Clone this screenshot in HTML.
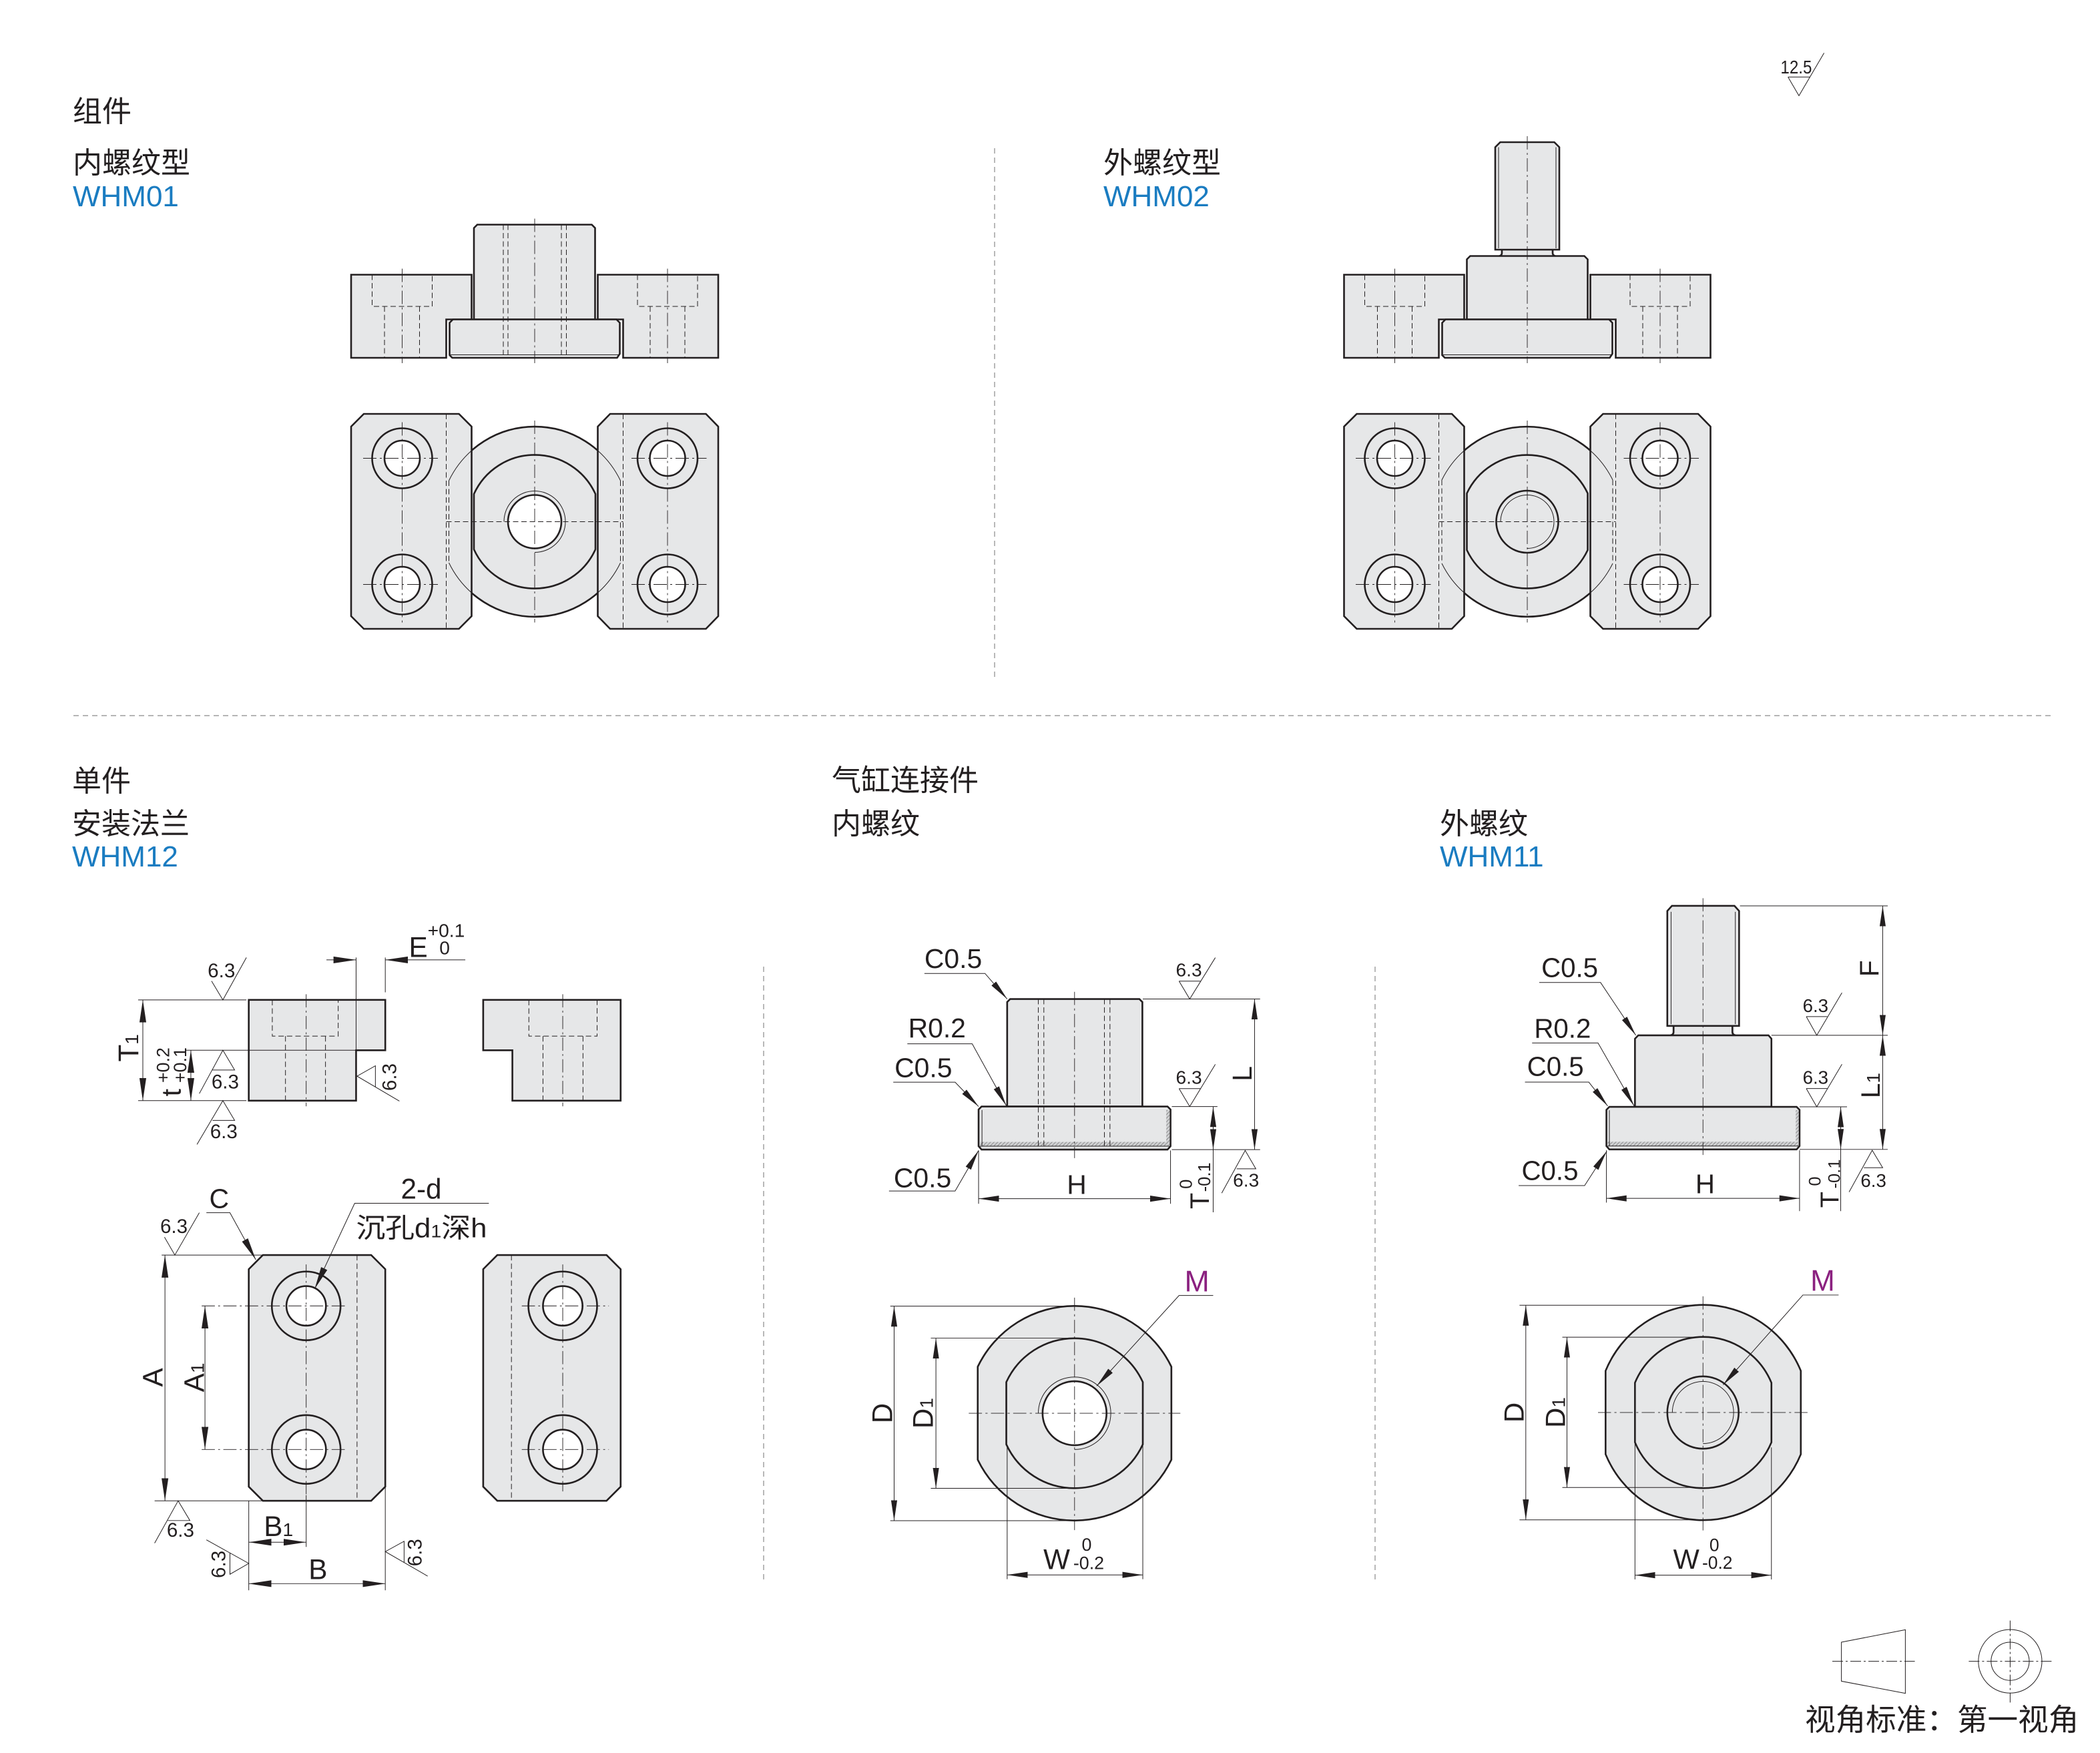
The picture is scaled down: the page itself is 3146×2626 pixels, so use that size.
<!DOCTYPE html>
<html><head><meta charset="utf-8">
<style>
html,body{margin:0;padding:0;background:#fff}
svg{display:block}
.p{fill:#e6e7e8;stroke:#231f20;stroke-linejoin:miter}
.w{fill:#fff;stroke:#231f20}
.n{fill:none;stroke:#231f20}
.kA{stroke-width:5.2}.tA{fill:none;stroke:#231f20;stroke-width:2}.hA{fill:none;stroke:#231f20;stroke-width:2;stroke-dasharray:16 9}.cA{fill:none;stroke:#231f20;stroke-width:1.8;stroke-dasharray:40 10 6 10}
.kB{stroke-width:3.7}.tB{fill:none;stroke:#231f20;stroke-width:1.4}.hB{fill:none;stroke:#231f20;stroke-width:1.4;stroke-dasharray:11.5 6.5}.cB{fill:none;stroke:#231f20;stroke-width:1.3;stroke-dasharray:28 7 4 7}
.kC{stroke-width:4.1}.tC{fill:none;stroke:#231f20;stroke-width:1.55}.hC{fill:none;stroke:#231f20;stroke-width:1.55;stroke-dasharray:12.5 7}.cC{fill:none;stroke:#231f20;stroke-width:1.4;stroke-dasharray:31 8 5 8}
.sep{fill:none;stroke:#8a8a8a;stroke-width:0.6;stroke-dasharray:4 3}
text{font-family:"Liberation Sans","Noto Sans CJK SC",sans-serif;fill:#231f20}
.bl{fill:#1a7cc1}
.mg{fill:#8b2180}
</style></head><body>
<svg xmlns="http://www.w3.org/2000/svg" width="3146" height="2626" viewBox="0 0 1573 1313">
<defs>
<marker id="ae" viewBox="0 0 48 16" refX="48" refY="8" markerWidth="48" markerHeight="16" orient="auto" markerUnits="userSpaceOnUse"><path d="M0,0.8 L48,8 L0,15.2 Z" fill="#231f20"/></marker>
<marker id="as" viewBox="0 0 48 16" refX="0" refY="8" markerWidth="48" markerHeight="16" orient="auto" markerUnits="userSpaceOnUse"><path d="M48,0.8 L0,8 L48,15.2 Z" fill="#231f20"/></marker>
<pattern id="hat" patternUnits="userSpaceOnUse" width="6" height="6" patternTransform="rotate(45)"><rect width="6" height="6" fill="#cfd0d2"/><line x1="0" y1="0" x2="0" y2="6" stroke="#555" stroke-width="1.6"/></pattern>
</defs>

<!-- headers -->
<text x="54.5" y="91" font-size="22">组件</text>
<text x="54.5" y="129.5" font-size="22">内螺纹型</text>
<text x="54.5" y="154.5" font-size="22" class="bl">WHM01</text>
<text x="826.5" y="129.5" font-size="22">外螺纹型</text>
<text x="826.5" y="154.5" font-size="22" class="bl">WHM02</text>
<text x="54" y="592.5" font-size="22">单件</text>
<text x="54" y="624.5" font-size="22">安装法兰</text>
<text x="54" y="649" font-size="22" class="bl">WHM12</text>
<text x="623" y="592" font-size="22">气缸连接件</text>
<text x="623" y="624.5" font-size="22">内螺纹</text>
<text x="1078.5" y="624.5" font-size="22">外螺纹</text>
<text x="1078.5" y="649" font-size="22" class="bl">WHM11</text>

<!-- separators -->
<path class="sep" d="M745,111V507"/>
<path class="sep" d="M55,536H1538"/>
<path class="sep" d="M572,724V1184"/>
<path class="sep" d="M1030,724V1186"/>

<!-- 12.5 roughness -->
<text x="1333.7" y="55" font-size="14" textLength="23.5" lengthAdjust="spacingAndGlyphs">12.5</text>
<path fill="none" stroke="#231f20" stroke-width="0.5" d="M1339.3,57.7H1355.8M1339.3,57.7L1347.5,71.7L1366.3,39.7"/>

<!-- ============ TOP LEFT ASSEMBLY ============ -->
<g transform="translate(240,90) scale(0.25)">
<path class="p kA" d="M92,463H453V597H377V712H92Z"/>
<path class="p kA" d="M831,463H1192V712H907V597H831Z"/>
<path class="p kA" d="M460,597V323L470,313H813L823,323V597Z"/>
<path class="p kA" d="M397,597H887L897,607V700L889,712H395L387,704V607Z"/>
<path class="tA" d="M390,703H894"/>
<path class="hA" d="M548,313V712M562,313V712M722,313V712M737,313V712"/>
<path class="hA" d="M155,463V558H335V463M192,558V712M297,558V712M950,463V558H1130V463M988,558V712M1092,558V712"/>
<path class="cA" d="M642,295V728M245,445V728M1040,445V728"/>
<path class="p kA" d="M385,1080A285,285 0 0 1 899,1080V1326A285,285 0 0 1 385,1326Z"/>
<path class="p kA" d="M460,1120A200,200 0 0 1 824,1120V1286A200,200 0 0 1 460,1286Z"/>
<circle class="w kA" cx="642" cy="1203" r="80"/>
<path class="tA" d="M642,1295A92,92 0 1 0 550,1203"/>
<path class="p kA" d="M130,880H415L453,918V1486L415,1524H130L92,1486V918Z"/>
<path class="p kA" d="M868,880H1155L1192,918V1486L1155,1524H868L831,1486V918Z"/>
<circle class="p kA" cx="245" cy="1013" r="90"/><circle class="w kA" cx="245" cy="1013" r="53"/>
<circle class="p kA" cx="245" cy="1391" r="90"/><circle class="w kA" cx="245" cy="1391" r="53"/>
<circle class="p kA" cx="1040" cy="1013" r="90"/><circle class="w kA" cx="1040" cy="1013" r="53"/>
<circle class="p kA" cx="1040" cy="1391" r="90"/><circle class="w kA" cx="1040" cy="1391" r="53"/>
<path class="hA" d="M377,880V1524M907,880V1524M385,1080V1326M899,1080V1326M377,1203H907"/>
<path class="tA" d="M385,1080A285,285 0 0 1 453,990M899,1080A285,285 0 0 0 831,990M385,1326A285,285 0 0 0 453,1416M899,1326A285,285 0 0 1 831,1416"/>
<path class="cA" d="M128,1013H352M128,1391H352M245,905V1505M932,1013H1157M932,1391H1157M1040,905V1505M642,900V1505"/>
</g>

<!-- ============ TOP RIGHT ASSEMBLY ============ -->
<g transform="translate(980,90) scale(0.25)">
<path class="p kA" d="M107,463H467V597H391V712H107Z"/>
<path class="p kA" d="M845,463H1205V712H921V597H845Z"/>
<path class="p" style="stroke:none" d="M576,384H736V412H576Z"/>
<path class="p kA" d="M475,597V417L485,407H827L837,417V597Z"/>
<path class="p kA" d="M560,388V81L575,66H737L752,81V388Z"/>
<path class="n kA" d="M580,388V398Q580,405 572,407M732,388V398Q732,405 740,407"/>
<path class="tA" d="M570,81V384M742,81V384"/>
<path class="p kA" d="M411,597H901L911,607V700L903,712H409L401,704V607Z"/>
<path class="tA" d="M404,703H908"/>
<path class="hA" d="M169,463V558H349V463M207,558V712M311,558V712M964,463V558H1144V463M1002,558V712M1106,558V712"/>
<path class="cA" d="M656,48V728M259,445V728M1054,445V728"/>
<path class="p kA" d="M400,1078A285,285 0 0 1 912,1078V1328A285,285 0 0 1 400,1328Z"/>
<path class="p kA" d="M475,1118A200,200 0 0 1 837,1118V1288A200,200 0 0 1 475,1288Z"/>
<circle class="p kA" cx="656" cy="1203" r="93"/>
<path class="tA" d="M656,1283A80,80 0 1 0 576,1203"/>
<path class="p kA" d="M145,880H430L467,918V1486L430,1524H145L107,1486V918Z"/>
<path class="p kA" d="M883,880H1168L1205,918V1486L1168,1524H883L845,1486V918Z"/>
<circle class="p kA" cx="259" cy="1013" r="90"/><circle class="w kA" cx="259" cy="1013" r="53"/>
<circle class="p kA" cx="259" cy="1391" r="90"/><circle class="w kA" cx="259" cy="1391" r="53"/>
<circle class="p kA" cx="1054" cy="1013" r="90"/><circle class="w kA" cx="1054" cy="1013" r="53"/>
<circle class="p kA" cx="1054" cy="1391" r="90"/><circle class="w kA" cx="1054" cy="1391" r="53"/>
<path class="hA" d="M391,880V1524M921,880V1524M400,1078V1328M912,1078V1328M391,1203H921"/>
<path class="tA" d="M400,1078A285,285 0 0 1 467,990M912,1078A285,285 0 0 0 845,990M400,1328A285,285 0 0 0 467,1416M912,1328A285,285 0 0 1 845,1416"/>
<path class="cA" d="M142,1013H367M142,1391H367M259,905V1505M945,1013H1170M945,1391H1170M1054,905V1505M656,900V1505"/>
</g>

<!-- ============ BOTTOM LEFT: WHM12 ============ -->
<g transform="translate(40,665) scale(0.35261)">
<path class="p kB" d="M415,238H705V345H643V452H415Z"/>
<path class="hB" d="M465,238V315H605V238M493,315V452M578,315V452"/>
<path class="cB" d="M537,226V464"/>
<path class="p kB" d="M913,238H1205V452H975V345H913Z"/>
<path class="hB" d="M1010,238V315H1155V238M1040,315V452M1125,315V452"/>
<path class="cB" d="M1082,226V464"/>
<path class="tB" d="M643,345V148M705,148V222M180,238H410M180,452H410M280,345H643"/>
<path class="tB" marker-end="url(#ae)" d="M580,153H643"/>
<path class="tB" marker-end="url(#ae)" d="M875,153H705"/>
<path class="tB" marker-start="url(#as)" marker-end="url(#ae)" d="M190,238V452"/>
<path class="tB" marker-start="url(#as)" marker-end="url(#ae)" d="M292,345V452"/>
<path class="tB" d="M336,198L360,238L410,148"/>
<path class="tB" d="M310,437L360,345L385,387H338"/>
<path class="tB" d="M305,545L360,452L385,494H338"/>
<path class="tB" d="M735,453L645,400L684,378V423"/>
<text x="357" y="190" font-size="42" text-anchor="middle">6.3</text>
<text x="365" y="426" font-size="42" text-anchor="middle">6.3</text>
<text x="362" y="532" font-size="42" text-anchor="middle">6.3</text>
<text transform="translate(728,402) rotate(-90)" font-size="42" text-anchor="middle">6.3</text>
<text x="755" y="147" font-size="60">E</text>
<text x="795" y="104" font-size="40">+0.1</text>
<text x="820" y="141" font-size="40">0</text>
<text transform="translate(180,340) rotate(-90)" font-size="60" text-anchor="middle">T<tspan font-size="40">1</tspan></text>
<text transform="translate(270,443) rotate(-90)" font-size="58">t</text>
<text transform="translate(282,414) rotate(-90)" font-size="38">+0.1</text>
<text transform="translate(246,414) rotate(-90)" font-size="38">+0.2</text>
<path class="p kB" d="M445,780H675L705,810V1272L675,1302H445L415,1272V810Z"/>
<circle class="p kB" cx="537" cy="888" r="73"/><circle class="w kB" cx="537" cy="888" r="42"/>
<circle class="p kB" cx="537" cy="1193" r="73"/><circle class="w kB" cx="537" cy="1193" r="42"/>
<path class="hB" d="M645,780V1302"/>
<path class="cB" d="M315,888H625M315,1193H625M537,800V1290"/>
<path class="tB" d="M537,1290V1400"/>
<path class="p kB" d="M943,780H1175L1205,810V1272L1175,1302H943L913,1272V810Z"/>
<circle class="p kB" cx="1082" cy="888" r="73"/><circle class="w kB" cx="1082" cy="888" r="42"/>
<circle class="p kB" cx="1082" cy="1193" r="73"/><circle class="w kB" cx="1082" cy="1193" r="42"/>
<path class="hB" d="M973,780V1302"/>
<path class="cB" d="M995,888H1180M995,1193H1180M1082,800V1282"/>
<path class="tB" d="M230,780H445M215,1302H445M415,1302V1492M705,1272V1492"/>
<path class="tB" marker-start="url(#as)" marker-end="url(#ae)" d="M237,780V1302"/>
<path class="tB" marker-start="url(#as)" marker-end="url(#ae)" d="M322,888V1193"/>
<path class="tB" marker-start="url(#as)" marker-end="url(#ae)" d="M415,1390H537"/>
<path class="tB" marker-start="url(#as)" marker-end="url(#ae)" d="M415,1478H705"/>
<path class="tB" marker-end="url(#ae)" d="M325,690H375L430,790"/>
<path class="tB" marker-end="url(#ae)" d="M925,670H640L555,852"/>
<path class="tB" d="M236,742L258,780L310,690"/>
<path class="tB" d="M215,1392L265,1302L290,1344H243"/>
<path class="tB" d="M325,1385L415,1435L375,1458V1413"/>
<path class="tB" d="M795,1462L705,1410L745,1388V1433"/>
<text x="256" y="733" font-size="42" text-anchor="middle">6.3</text>
<text x="270" y="1378" font-size="42" text-anchor="middle">6.3</text>
<text transform="translate(365,1437) rotate(-90)" font-size="42" text-anchor="middle">6.3</text>
<text transform="translate(782,1412) rotate(-90)" font-size="42" text-anchor="middle">6.3</text>
<text x="352" y="680" font-size="58" text-anchor="middle">C</text>
<text x="738" y="660" font-size="60">2-d</text>
<text x="643" y="742" font-size="58" textLength="278" lengthAdjust="spacingAndGlyphs">沉孔d<tspan font-size="38">1</tspan>深h</text>
<text transform="translate(232,1040) rotate(-90)" font-size="60" text-anchor="middle">A</text>
<text transform="translate(320,1040) rotate(-90)" font-size="60" text-anchor="middle">A<tspan font-size="40">1</tspan></text>
<text x="447" y="1377" font-size="60">B<tspan font-size="40">1</tspan></text>
<text x="562" y="1468" font-size="60" text-anchor="middle">B</text>
</g>

<!-- ============ BOTTOM MIDDLE: internal thread ============ -->
<g transform="translate(610,670) scale(0.3195)">
<path class="p kC" d="M452,497V252L459,245H762L769,252V497Z"/>
<path class="p kC" d="M392,497H828L835,504V590L828,598H392L385,590V504Z"/>
<rect x="389" y="580" width="443" height="10" fill="url(#hat)"/>
<rect x="825" y="505" width="8" height="78" fill="url(#hat)"/>
<path class="tC" d="M388,590H832M393,505V590"/>
<path class="hC" d="M525,245V598M538,245V598M680,245V598M693,245V598"/>
<path class="cC" d="M610,228V618"/>
<path class="tC" d="M770,245H1045M838,598H1045M838,497H945M935,598V745M835,600V725M385,600V725"/>
<path class="tC" marker-start="url(#as)" marker-end="url(#ae)" d="M1032,245V598"/>
<path class="tC" marker-start="url(#as)" marker-end="url(#ae)" d="M935,497V598"/>
<path class="tC" marker-start="url(#as)" marker-end="url(#ae)" d="M385,713H835"/>
<path class="tC" marker-end="url(#ae)" d="M258,185H400L452,245"/>
<path class="tC" marker-end="url(#ae)" d="M218,350H370L450,495"/>
<path class="tC" marker-end="url(#ae)" d="M185,440H330L385,497"/>
<path class="tC" marker-end="url(#ae)" d="M175,695H330L385,600"/>
<path class="tC" d="M855,203H905M855,203L880,245L940,148"/>
<path class="tC" d="M855,455H905M855,455L880,497L940,398"/>
<path class="tC" d="M955,700L1010,600L1035,643H990"/>
<text x="258" y="172" font-size="64">C0.5</text>
<text x="220" y="335" font-size="64">R0.2</text>
<text x="188" y="428" font-size="64">C0.5</text>
<text x="186" y="686" font-size="64">C0.5</text>
<text x="878" y="192" font-size="44" text-anchor="middle">6.3</text>
<text x="878" y="444" font-size="44" text-anchor="middle">6.3</text>
<text x="1012" y="685" font-size="44" text-anchor="middle">6.3</text>
<text x="615" y="702" font-size="64" text-anchor="middle">H</text>
<text transform="translate(1025,420) rotate(-90)" font-size="64" text-anchor="middle">L</text>
<text transform="translate(925,737) rotate(-90)" font-size="62">T</text>
<text transform="translate(928,697) rotate(-90)" font-size="40">-0.1</text>
<text transform="translate(885,690) rotate(-90)" font-size="40">0</text>
<path class="p kC" d="M383,1107A252,252 0 0 1 837,1107V1325A252,252 0 0 1 383,1325Z"/>
<path class="p kC" d="M450,1143A176,176 0 0 1 770,1143V1289A176,176 0 0 1 450,1289Z"/>
<circle class="w kC" cx="610" cy="1216" r="75"/>
<path class="tC" d="M610,1301A85,85 0 1 0 525,1216"/>
<path class="cC" d="M362,1216H858M610,945V1490"/>
<path class="tC" d="M178,965H610M178,1468H610M273,1040H610M273,1392H610M452,1290V1605M770,1290V1605"/>
<path class="tC" marker-start="url(#as)" marker-end="url(#ae)" d="M187,965V1468"/>
<path class="tC" marker-start="url(#as)" marker-end="url(#ae)" d="M285,1040V1392"/>
<path class="tC" marker-start="url(#as)" marker-end="url(#ae)" d="M452,1595H770"/>
<path class="tC" marker-end="url(#ae)" d="M935,940H855L662,1152"/>
<text x="897" y="930" font-size="70" text-anchor="middle" class="mg">M</text>
<text transform="translate(182,1216) rotate(-90)" font-size="66" text-anchor="middle">D</text>
<text transform="translate(278,1216) rotate(-90)" font-size="66" text-anchor="middle">D<tspan font-size="44">1</tspan></text>
<text x="537" y="1581" font-size="66">W</text>
<text x="638.5" y="1538" font-size="42" text-anchor="middle">0</text>
<text x="607" y="1581" font-size="42">-0.2</text>
</g>

<!-- ============ BOTTOM RIGHT: WHM11 ============ -->
<g transform="translate(1080,660) scale(0.3145,0.3189)">
<path class="p" style="stroke:none" d="M548,336H697V366H548Z"/>
<path class="p kC" d="M460,530V370L468,362H778L785,370V530Z"/>
<path class="p kC" d="M537,340V70L548,58H697L708,70V340Z"/>
<path class="tC" d="M546,72V336M699,72V336"/>
<path class="n kC" d="M552,340V354Q552,361 544,362M692,340V354Q692,361 700,362"/>
<path class="p kC" d="M399,530H845L852,537V622L845,630H399L392,622V537Z"/>
<rect x="395" y="612" width="454" height="10" fill="url(#hat)"/>
<rect x="843" y="538" width="7" height="72" fill="url(#hat)"/>
<path class="tC" d="M395,622H849M399,538V622"/>
<path class="cC" d="M622,40V645"/>
<path class="tC" d="M710,58H1062M785,362H1062M852,630H1062M852,530H965M950,630V775M852,632V775M392,632V755"/>
<path class="tC" marker-start="url(#as)" marker-end="url(#ae)" d="M1050,58V362"/>
<path class="tC" marker-start="url(#as)" marker-end="url(#ae)" d="M1050,362V630"/>
<path class="tC" marker-start="url(#as)" marker-end="url(#ae)" d="M950,530V630"/>
<path class="tC" marker-start="url(#as)" marker-end="url(#ae)" d="M392,745H852"/>
<path class="tC" marker-end="url(#ae)" d="M232,238H378L462,362"/>
<path class="tC" marker-end="url(#ae)" d="M215,380H372L458,528"/>
<path class="tC" marker-end="url(#ae)" d="M198,472H350L395,528"/>
<path class="tC" marker-end="url(#ae)" d="M183,715H340L393,634"/>
<path class="tC" d="M868,318H918M868,318L893,362L953,262"/>
<path class="tC" d="M868,487H918M868,487L893,530L953,430"/>
<path class="tC" d="M970,730L1025,632L1050,673H1005"/>
<text x="237" y="225" font-size="64">C0.5</text>
<text x="220" y="368" font-size="64">R0.2</text>
<text x="203" y="457" font-size="64">C0.5</text>
<text x="190" y="702" font-size="64">C0.5</text>
<text x="890" y="307" font-size="44" text-anchor="middle">6.3</text>
<text x="890" y="476" font-size="44" text-anchor="middle">6.3</text>
<text x="1028" y="718" font-size="44" text-anchor="middle">6.3</text>
<text x="627" y="733" font-size="64" text-anchor="middle">H</text>
<text transform="translate(1040,205) rotate(-90)" font-size="64" text-anchor="middle">F</text>
<text transform="translate(1043,480) rotate(-90)" font-size="64" text-anchor="middle">L<tspan font-size="44">1</tspan></text>
<text transform="translate(945,767) rotate(-90)" font-size="62">T</text>
<text transform="translate(948,722) rotate(-90)" font-size="40">-0.1</text>
<text transform="translate(902,716) rotate(-90)" font-size="40">0</text>
<path class="p kC" d="M390,1150A252,252 0 0 1 855,1150V1346A252,252 0 0 1 390,1346Z"/>
<path class="p kC" d="M460,1178A176.5,176.5 0 0 1 785,1178V1318A176.5,176.5 0 0 1 460,1318Z"/>
<circle class="p kC" cx="622" cy="1248" r="85"/>
<path class="tC" d="M622,1321A73,73 0 1 0 549,1248"/>
<path class="cC" d="M372,1248H875M622,975V1525"/>
<path class="tC" d="M185,996H622M185,1500H622M287,1071H622M287,1424H622M460,1318V1640M785,1330V1640"/>
<path class="tC" marker-start="url(#as)" marker-end="url(#ae)" d="M200,996V1500"/>
<path class="tC" marker-start="url(#as)" marker-end="url(#ae)" d="M298,1071V1424"/>
<path class="tC" marker-start="url(#as)" marker-end="url(#ae)" d="M460,1630H785"/>
<path class="tC" marker-end="url(#ae)" d="M945,972H860L670,1183"/>
<text x="907" y="962" font-size="70" text-anchor="middle" class="mg">M</text>
<text transform="translate(195,1248) rotate(-90)" font-size="66" text-anchor="middle">D</text>
<text transform="translate(293,1248) rotate(-90)" font-size="66" text-anchor="middle">D<tspan font-size="44">1</tspan></text>
<text x="551" y="1615" font-size="66">W</text>
<text x="649" y="1573" font-size="42" text-anchor="middle">0</text>
<text x="620" y="1615" font-size="42">-0.2</text>
</g>

<!-- legend -->
<g fill="none" stroke="#231f20" stroke-width="0.5">
<path d="M1379.3,1230L1427.2,1220.7V1268.3L1379.3,1259.2Z"/>
<path d="M1372.5,1244.3H1434.3" stroke-dasharray="8 2 1.5 2"/>
<circle cx="1505.7" cy="1244.3" r="23.8"/>
<circle cx="1505.7" cy="1244.3" r="14.3"/>
<path d="M1474.7,1244.3H1536.7M1505.7,1213.8V1275.2" stroke-dasharray="8 2 1.5 2"/>
</g>
<text x="1352" y="1296" font-size="22.8">视角标准：第一视角</text>
</svg>
</body></html>
